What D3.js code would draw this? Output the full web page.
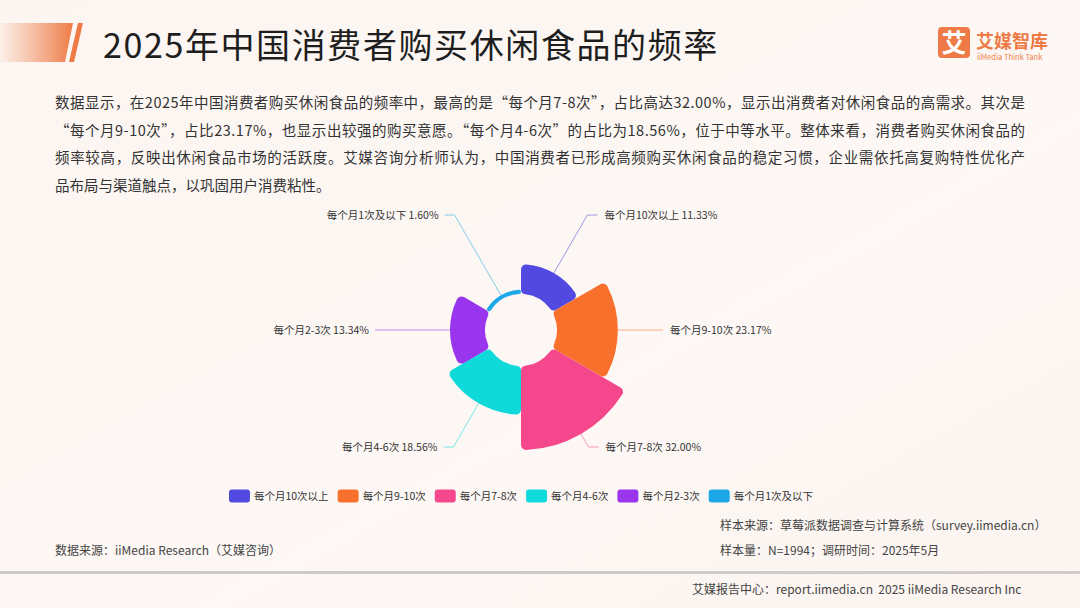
<!DOCTYPE html>
<html>
<head>
<meta charset="utf-8">
<script src="https://cdn.jsdelivr.net/npm/d3@7/dist/d3.min.js"></script>
<style>
  html, body { margin: 0; padding: 0; background: #fcf7f4; }
  svg { display: block; font-family: "Noto Sans CJK SC", "Noto Sans", sans-serif; }
</style>
</head>
<body>
<svg id="chart" width="1080" height="608"></svg>
<script>
// chart data
const categories = ['每个月10次以上', '每个月9-10次', '每个月7-8次', '每个月4-6次', '每个月2-3次', '每个月1次及以下'];
const shares = [11.33, 23.17, 32.00, 18.56, 13.34, 1.60];
const sliceColors = ['#5249e0', '#f8702b', '#f5488c', '#10d9da', '#9a35ee', '#1ba7e8'];

const titleText = '2025年中国消费者购买休闲食品的频率';
const paragraphLines = [
    '数据显示，在2025年中国消费者购买休闲食品的频率中，最高的是“每个月7-8次”，占比高达32.00%，显示出消费者对休闲食品的高需求。其次是',
    '“每个月9-10次”，占比23.17%，也显示出较强的购买意愿。“每个月4-6次”的占比为18.56%，位于中等水平。整体来看，消费者购买休闲食品的',
    '频率较高，反映出休闲食品市场的活跃度。艾媒咨询分析师认为，中国消费者已形成高频购买休闲食品的稳定习惯，企业需依托高复购特性优化产',
    '品布局与渠道触点，以巩固用户消费粘性。'
];

const svg = d3.select('#chart');

// background
const defs = svg.append('defs');
const bg = defs.append('linearGradient').attr('id', 'bgGrad')
    .attr('x1', 0).attr('y1', 0).attr('x2', 1).attr('y2', 1);
bg.append('stop').attr('offset', '0%').attr('stop-color', '#fcf5f1');
bg.append('stop').attr('offset', '60%').attr('stop-color', '#fdf8f5');
bg.append('stop').attr('offset', '100%').attr('stop-color', '#fbf4f0');
svg.append('rect').attr('width', 1080).attr('height', 608).attr('fill', 'url(#bgGrad)');

// header bar
const hb = defs.append('linearGradient').attr('id', 'headGrad');
hb.append('stop').attr('offset', '0%').attr('stop-color', '#f08a5a').attr('stop-opacity', 0.05);
hb.append('stop').attr('offset', '100%').attr('stop-color', '#ee7b47');
svg.append('path').attr('d', 'M0,23 L73,23 L65,62 L0,62 Z').attr('fill', 'url(#headGrad)');
svg.append('path').attr('d', 'M78,23 L83,23 L74,62 L69,62 Z').attr('fill', '#ee7b47');

svg.append('text')
    .attr('x', 103).attr('y', 58)
    .attr('font-size', 34).attr('letter-spacing', 1.6).attr('fill', '#1e1e1e')
    .text(titleText);

// logo
const logo = svg.append('g');
logo.append('rect').attr('x', 938).attr('y', 27).attr('width', 32).attr('height', 31)
    .attr('rx', 4).attr('fill', '#ee7b47');
logo.append('text').attr('x', 954).attr('y', 52).attr('text-anchor', 'middle')
    .attr('font-size', 25).attr('font-weight', 700).attr('fill', '#fff').text('艾');
logo.append('text').attr('x', 976).attr('y', 48)
    .attr('font-size', 18).attr('font-weight', 700).attr('fill', '#ee7b47').text('艾媒智库');
logo.append('text').attr('x', 977).attr('y', 60)
    .attr('font-size', 7.5).attr('fill', '#ee7b47').text('iiMedia Think Tank');

// paragraph
paragraphLines.forEach((line, i) => {
    const t = svg.append('text')
        .attr('x', 55).attr('y', 108 + i * 27.5)
        .attr('font-size', 14.5).attr('fill', '#333')
        .text(line);
    if (i < paragraphLines.length - 1) {
        t.attr('textLength', 970).attr('lengthAdjust', 'spacing');
    }
});

// rose chart
const cx = 521, cy = 330;
const innerR = 36;
const rScale = d3.scaleLinear().domain([0, d3.max(shares)]).range([innerR, 120]);
const step = 2 * Math.PI / categories.length;

const slices = categories.map((c, i) => ({
    name: c,
    value: shares[i],
    color: sliceColors[i],
    startAngle: i * step,
    endAngle: (i + 1) * step
}));

const arc = d3.arc()
    .innerRadius(innerR)
    .outerRadius(d => rScale(d.value))
    .cornerRadius(5);

const chartGroup = svg.append('g').attr('transform', `translate(${cx}, ${cy})`);

// leader lines + labels
const labelLevel = 115;
slices.forEach(d => {
    const mid = (d.startAngle + d.endAngle) / 2;
    const r = rScale(d.value);
    const dx = Math.sin(mid), dy = -Math.cos(mid);
    const p0 = [dx * r, dy * r];
    const right = dx > 0;
    let pts, endX;
    if (Math.abs(dy) < 0.01) {
        endX = right ? 142 : -146;
        pts = [p0, [endX, 0]];
    } else {
        const ly = dy < 0 ? -labelLevel : labelLevel + 2;
        const t = (ly - p0[1]) / dy;
        const bend = [p0[0] + dx * t, ly];
        endX = bend[0] + (right ? 10 : -10);
        pts = [p0, bend, [endX, ly]];
    }
    chartGroup.append('path')
        .attr('d', d3.line()(pts))
        .attr('fill', 'none')
        .attr('stroke', d.color)
        .attr('stroke-opacity', 0.55)
        .attr('stroke-width', 1);
    const last = pts[pts.length - 1];
    chartGroup.append('text')
        .attr('x', last[0] + (right ? 7 : -6))
        .attr('y', last[1])
        .attr('dy', '0.35em')
        .attr('text-anchor', right ? 'start' : 'end')
        .attr('font-size', 10.5)
        .attr('fill', '#333')
        .text(`${d.name} ${d.value.toFixed(2)}%`);
});

chartGroup.selectAll('.slice')
    .data(slices)
    .enter()
    .append('path')
    .attr('class', 'slice')
    .attr('d', arc)
    .attr('fill', d => d.color);

// legend
const legend = svg.append('g');
const legendGap = 9;
let lx = 0;
categories.forEach((c, i) => {
    const g = legend.append('g');
    g.append('rect').attr('x', 0).attr('y', -6.5).attr('width', 21).attr('height', 13)
        .attr('rx', 3).attr('fill', sliceColors[i]);
    const txt = g.append('text').attr('x', 25).attr('dy', '0.35em')
        .attr('font-size', 10.5).attr('fill', '#333').text(c);
    const w = 25 + txt.node().getComputedTextLength();
    g.attr('transform', `translate(${lx}, 0)`);
    lx += w + legendGap;
});
const legendW = lx - legendGap;
legend.attr('transform', `translate(${cx - legendW / 2}, 496)`);

// footnotes
const note = svg.append('g').attr('font-size', 12).attr('fill', '#444');
note.append('text').attr('x', 55).attr('y', 555).text('数据来源：iiMedia Research（艾媒咨询）');
note.append('text').attr('x', 720).attr('y', 530).text('样本来源：草莓派数据调查与计算系统（survey.iimedia.cn）');
note.append('text').attr('x', 720).attr('y', 555).text('样本量：N=1994；调研时间：2025年5月');

svg.append('rect').attr('x', 0).attr('y', 571).attr('width', 1080).attr('height', 3).attr('fill', '#cfcbc8');

svg.append('text').attr('x', 692).attr('y', 594)
    .attr('font-size', 12).attr('fill', '#444')
    .attr('xml:space', 'preserve').style('white-space', 'pre')
    .text('艾媒报告中心：report.iimedia.cn  2025 iiMedia Research Inc');
</script>
</body>
</html>
